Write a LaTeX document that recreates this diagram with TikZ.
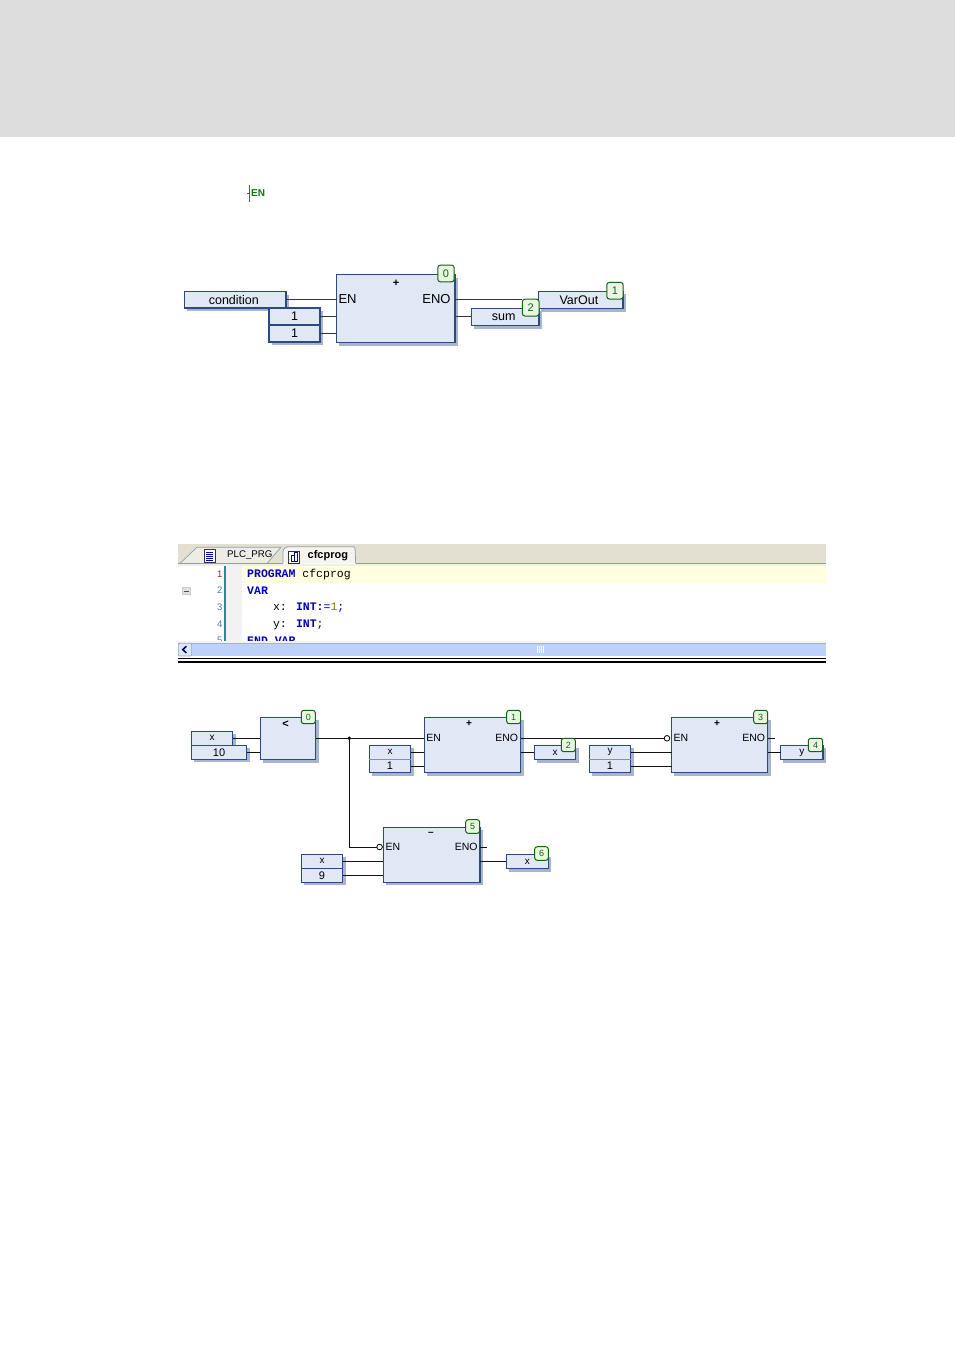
\documentclass[tikz,border=0pt]{standalone}
\usepackage{fontspec}
\setmainfont{Liberation Sans}
\newfontfamily\codefont{Liberation Mono}
\definecolor{bandgray}{HTML}{DDDDDD}
\definecolor{boxfill}{HTML}{E0E7F5}
\definecolor{boxline}{HTML}{2A4A80}
\definecolor{boxshadow}{HTML}{A8B4CE}
\definecolor{dividerc}{HTML}{8090B8}
\definecolor{badgefill}{HTML}{E8F6E2}
\definecolor{badgeline}{HTML}{146414}
\definecolor{tabband}{HTML}{E3E0D2}
\definecolor{tabline}{HTML}{8C9FB0}
\definecolor{yellowline}{HTML}{FFFFE0}
\definecolor{marginc}{HTML}{F2F2F2}
\definecolor{tealc}{HTML}{1E9090}
\definecolor{kwblue}{HTML}{0000B8}
\definecolor{numblue}{HTML}{4A7FB0}
\definecolor{numred}{HTML}{B02030}
\definecolor{olivec}{HTML}{808000}
\definecolor{scrollc}{HTML}{BDD2FA}
\definecolor{scrollbtn}{HTML}{DCE6FA}
\definecolor{wirec}{HTML}{111111}
\definecolor{enblue}{HTML}{5050A8}
\definecolor{engreen}{HTML}{0A7A0A}
\tikzset{
  cfcbox/.style={draw=boxline,fill=boxfill,line width=1.1pt,inner sep=0pt,outer sep=0pt,text=black,font=\fontsize{#1}{#1}\selectfont},
  cfcbox/.default=10,
  badgebox/.style={draw=badgeline,fill=badgefill,line width=1pt,rounded corners=2.5pt,inner sep=0pt,outer sep=0pt,text=badgeline,font=\fontsize{#1}{#1}\selectfont},
  badgebox/.default=9,
  wire/.style={draw=wirec,line width=1pt},
  bigw/.style={draw=wirec!85!white,line width=1pt},
  lab/.style={inner sep=0pt,outer sep=0pt,font=\fontsize{#1}{#1}\selectfont},
  lab/.default=10,
  oper/.style={inner sep=0pt,font=\bfseries\fontsize{#1}{#1}\selectfont},
  negc/.style={circle,draw=black,fill=white,line width=.8pt,minimum size=5.6pt,inner sep=0pt,outer sep=0pt},
  code/.style={anchor=west,inner sep=0pt,font=\codefont\fontsize{11.5}{11.5}\selectfont},
  lnum/.style={anchor=east,inner sep=0pt,text=numblue,font=\fontsize{9.5}{9.5}\selectfont}
}
% \bx{style}{name}{x1}{y1}{x2}{y2}{text}: box with a soft drop shadow
\newcommand{\bx}[7]{%
  \pgfmathsetmacro{\bw}{#5-#3}\pgfmathsetmacro{\bh}{#6-#4}%
  \pgfmathsetmacro{\bcx}{(#3+#5)/2}\pgfmathsetmacro{\bcy}{(#4+#6)/2}%
  \fill[boxshadow] (#3+2.5,#4+3) rectangle (#5+3,#6+3);%
  \node[#1,minimum width=\bw pt,minimum height=\bh pt] (#2) at (\bcx,\bcy) {#7};}
% \bdg{size}{name}{x1}{y1}{x2}{y2}{text}
\newcommand{\bdg}[7]{%
  \pgfmathsetmacro{\bw}{#5-#3}\pgfmathsetmacro{\bh}{#6-#4}%
  \pgfmathsetmacro{\bcx}{(#3+#5)/2}\pgfmathsetmacro{\bcy}{(#4+#6)/2}%
  \node[badgebox=#1,minimum width=\bw pt,minimum height=\bh pt] (#2) at (\bcx,\bcy) {#7};}
\begin{document}
\begin{tikzpicture}[x=1pt,y=-1pt]
\useasboundingbox (0,0) rectangle (955,1350);
\fill[white] (0,0) rectangle (955,1350);
\fill[bandgray] (0,0) rectangle (955,137);

% EN icon
\draw[enblue,line width=1.5pt] (249.6,185) -- (249.6,202);
\draw[enblue,line width=1pt] (247,193) -- (249.6,193);
\node[inner sep=0pt,anchor=west,text=engreen,font=\bfseries\fontsize{10}{10}\selectfont] (enicon) at (251,193) {EN};

% ---- first CFC network
\bx{cfcbox=12.5}{cond}{184.7}{291.5}{286}{308}{\hspace*{-3pt}condition}
\bx{cfcbox=12.5}{one}{269}{308}{320}{325}{1}
\bx{cfcbox=12.5}{two}{269}{325}{320}{342}{1}
\bx{cfcbox=12.5}{add}{336.5}{274.7}{455}{342.5}{}
\node[oper=11] (addop) at (396,283) {+};
\node[lab=13,anchor=west] (en0) at (338.5,299) {EN};
\node[lab=13,anchor=east] (eno0) at (450.5,299) {ENO};
\bx{cfcbox=12.5}{sum}{471.3}{308.3}{539}{325.5}{\hspace*{-3pt}sum}
\bx{cfcbox=12.5}{varout}{538.8}{291.3}{623}{308.6}{\hspace*{-4pt}VarOut}
\draw[bigw] (cond.east) -- (add.west |- cond.east);
\draw[bigw] (one.east) -- (add.west |- one.east);
\draw[bigw] (two.east) -- (add.west |- two.east);
\bdg{11}{bb2}{522.4}{299.2}{539}{316}{2}
\draw[bigw] (add.east |- cond.east) -- (bb2.north west |- cond.east);
\draw[bigw] (add.east |- sum.west) -- (sum.west);
\bdg{11}{bb0}{437.8}{265.2}{454.2}{281.8}{0}
\bdg{11}{bb1}{606.8}{282.4}{623.2}{299}{1}

% ---- editor window
\fill[tabband] (178,544) rectangle (826,563);
\draw[fill=tabband!60!white,draw=tabline,line width=.7pt] (180,563.4) -- (197,547.2) -- (281,547.2) -- (267,563.4);
\draw[fill=tabband!35!white,draw=tabline,line width=.8pt,rounded corners=1.5pt] (283,563.4) -- (283,550) -- (286,546.7) -- (355,546.7) -- (355.6,563.4);
\draw[tabline,line width=.9pt] (178,563.6) -- (283,563.6);
\draw[tabline,line width=.9pt] (355.6,563.6) -- (826,563.6);
\fill[tabband!50!white] (178,564) rectangle (826,566);
\fill[yellowline] (242,566) rectangle (826,583);
\fill[marginc] (226,566) rectangle (242,641);
\fill[tealc] (223.5,566) rectangle (225.5,641);
% tab icons
\draw[fill=white,draw=black!80,line width=.8pt] (204,549.5) rectangle (215,562.5);
\foreach \yy in {552,554,556,558,560}{\draw[kwblue,line width=.9pt] (206,\yy) -- (213,\yy);}
\draw[fill=white,draw=black!80,line width=.8pt] (288,551) rectangle (299,563);
\draw[fill=white,draw=kwblue,line width=.9pt] (291,555) rectangle (294,561);
\draw[fill=white,draw=kwblue,line width=.9pt] (294,552.5) rectangle (297,561);
\node[anchor=west,inner sep=0pt,font=\fontsize{9.7}{9.7}\selectfont] (tabA) at (227,555.5) {PLC\_PRG};
\node[anchor=west,inner sep=0pt,font=\bfseries\fontsize{11}{11}\selectfont] (tabB) at (307.5,555.5) {cfcprog};
% fold box
\draw[fill=black!12,draw=black!20,line width=.6pt] (182,587.5) rectangle (190,594.5);
\draw[black!70,line width=.9pt] (183.5,591) -- (188.5,591);
\begin{scope}
\clip (178,566) rectangle (826,641);
\node[lnum,text=numred] (ln1) at (222.5,574) {1};
\node[lnum] (ln2) at (222.5,590.5) {2};
\node[lnum] (ln3) at (222.5,607) {3};
\node[lnum] (ln4) at (222.5,624) {4};
\node[lnum] (ln5) at (222.5,640.5) {5};
\node[code] (c1) at (247,574.5) {{\bfseries\color{kwblue}PROGRAM} cfcprog};
\node[code] (c2) at (247,591) {{\bfseries\color{kwblue}VAR}};
\node[code] (c3) at (272.8,607.5) {x: {\bfseries\color{kwblue}INT:}{\color{kwblue}=}{\color{olivec}1}{\color{kwblue};}};
\node[code] (c4) at (272.8,624.5) {y: {\bfseries\color{kwblue}INT}{\color{kwblue};}};
\node[code] (c5) at (247,641) {{\bfseries\color{kwblue}END\_VAR}};
\end{scope}
\fill[tabband!40!white] (178,641) rectangle (826,642.6);
\fill[scrollc] (178,642.8) rectangle (826,656.2);
\draw[dividerc!70!white,line width=.6pt] (178,643.2) -- (826,643.2);
\draw[fill=scrollbtn,draw=scrollc!80!black,line width=.6pt,rounded corners=1pt] (178.4,643.2) rectangle (191.6,656);
\draw[black!70!blue,line width=1.5pt] (186.4,646.2) -- (182.8,649.6) -- (186.4,653);
\foreach \xx in {537.5,539.5,541.5,543.5}{\draw[white,line width=.9pt] (\xx,646) -- (\xx,653);}
\draw[black,line width=1pt] (178,658) -- (826,658);
\draw[black,line width=1.1pt] (178,662) -- (826,662);

% ---- second CFC network
\bx{cfcbox=10}{xa}{191.3}{731.3}{232.7}{745.3}{x}
\bx{cfcbox=11}{ten}{191.3}{745.3}{246.7}{759.4}{10}
\bx{cfcbox=10}{lt}{260.3}{717.3}{315.7}{759.6}{}
\node[oper=11] (ltop) at (285.5,724) {<};
\bx{cfcbox=10}{xb}{369.3}{745.3}{410.7}{759.3}{x}
\bx{cfcbox=11}{ob}{369.3}{759.3}{410.7}{772.7}{1}
\bx{cfcbox=10}{b1}{424.3}{717.3}{520.7}{772.7}{}
\node[oper=10] (op1) at (469,724) {+};
\node[lab=10.5,anchor=west] (en1) at (426.3,738.3) {EN};
\node[lab=10.5,anchor=east] (eno1) at (518,738.3) {ENO};
\bx{cfcbox=10}{xo}{534.3}{745.3}{575.7}{759.6}{x}
\bx{cfcbox=10}{yb}{589.3}{745.3}{630.7}{759.3}{y}
\bx{cfcbox=11}{oy}{589.3}{759.3}{630.7}{772.7}{1}
\bx{cfcbox=10}{b3}{671.7}{717.3}{767.7}{772.7}{}
\node[oper=10] (op3) at (717,724) {+};
\node[lab=10.5,anchor=west] (en3) at (673.5,738.3) {EN};
\node[lab=10.5,anchor=east] (eno3) at (765,738.3) {ENO};
\bx{cfcbox=10}{yo}{780.7}{745.3}{823}{759.6}{y}
\bx{cfcbox=10}{xc}{301.3}{854.3}{342.7}{868.3}{x}
\bx{cfcbox=11}{nine}{301.3}{868.3}{342.7}{882.3}{9}
\bx{cfcbox=10}{b5}{383.3}{827.3}{480}{882.3}{}
\node[oper=10] (op5) at (431,833.6) {--};
\node[lab=10.5,anchor=west] (en5) at (385.5,847) {EN};
\node[lab=10.5,anchor=east] (eno5) at (477.5,847) {ENO};
\bx{cfcbox=10}{xd}{506.3}{854.3}{548.3}{868.6}{x}
\draw[dividerc,line width=1pt] (ob.north west) -- (ob.north east);
\draw[dividerc,line width=1pt] (oy.north west) -- (oy.north east);
\node[negc] (n3) at (667,738.3) {};
\node[negc] (n5) at (379.6,847) {};
\node[circle,fill=black,minimum size=3.8pt,inner sep=0pt] (jn) at (349.3,738.3) {};
\coordinate (s3) at (775,738.3);
\coordinate (s5) at (487,847);
\draw[wire] (xa.east) -- (lt.west |- xa.east);
\draw[wire] (ten.east) -- (lt.west |- ten.east);
\draw[wire] (lt.east) -- (b1.west |- lt.east);
\draw[wire] (jn.center) -- (jn.center |- n5.west) -- (n5.west);
\draw[wire] (xb.east) -- (b1.west |- xb.east);
\draw[wire] (ob.east) -- (b1.west |- ob.east);
\draw[wire] (b1.east |- n3.west) -- (n3.west);
\draw[wire] (b1.east |- xo.west) -- (xo.west);
\draw[wire] (yb.east) -- (b3.west |- yb.east);
\draw[wire] (oy.east) -- (b3.west |- oy.east);
\draw[wire] (b3.east |- s3) -- (s3);
\draw[wire] (b3.east |- yo.west) -- (yo.west);
\draw[wire] (xc.east) -- (b5.west |- xc.east);
\draw[wire] (nine.east) -- (b5.west |- nine.east);
\draw[wire] (b5.east |- s5) -- (s5);
\draw[wire] (b5.east |- xd.west) -- (xd.west);
\bdg{9}{bg0}{301.3}{710.3}{315.3}{723.7}{0}
\bdg{9}{bg1}{506.7}{710.3}{520.7}{723.7}{1}
\bdg{9}{bg2}{561.3}{738.3}{575.3}{751.7}{2}
\bdg{9}{bg3}{753.7}{710.3}{767.7}{723.7}{3}
\bdg{9}{bg4}{808.3}{738.3}{822.7}{751.7}{4}
\bdg{9}{bg5}{465.7}{819.7}{479.7}{833.3}{5}
\bdg{9}{bg6}{534.7}{846.7}{548.3}{860.3}{6}
\end{tikzpicture}
\end{document}
